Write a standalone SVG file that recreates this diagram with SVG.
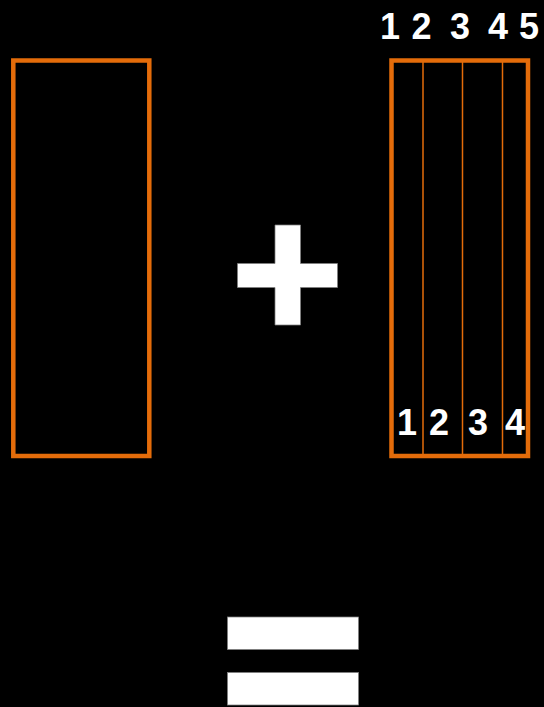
<svg xmlns="http://www.w3.org/2000/svg" width="544" height="707" viewBox="0 0 544 707">
<style>
.box{fill:none;stroke:#E46C0A;stroke-width:4.5}
.div{stroke:#E46C0A;stroke-width:1.5}
.num{font-family:"Liberation Sans",Arial,sans-serif;font-weight:bold;font-size:36px;fill:#fff;text-anchor:middle}
.sym{fill:#fff;stroke:#7f7f7f;stroke-width:0.75}
</style>
<rect width="544" height="707" fill="#000"/>
<g id="left-box"><rect class="box" x="13.3" y="60.5" width="136" height="395.5"/></g>
<g id="plus">
<path class="sym" d="M275,225 H300.5 V263.5 H337.5 V287.5 H300.5 V325 H275 V287.5 H237.5 V263.5 H275 Z"/>
</g>
<g id="right-box">
<rect class="box" x="391.5" y="60.5" width="136.5" height="395.5"/>
<line class="div" x1="423" y1="62" x2="423" y2="454"/>
<line class="div" x1="462.5" y1="62" x2="462.5" y2="454"/>
<line class="div" x1="502.5" y1="62" x2="502.5" y2="454"/>
</g>
<g id="top-numbers">
<text class="num" x="390" y="39">1</text>
<text class="num" x="421.5" y="39">2</text>
<text class="num" x="460" y="39">3</text>
<text class="num" x="498" y="39">4</text>
<text class="num" x="529" y="39">5</text>
</g>
<g id="bottom-numbers">
<text class="num" x="407" y="435">1</text>
<text class="num" x="439" y="435">2</text>
<text class="num" x="478" y="435">3</text>
<text class="num" x="515" y="435">4</text>
</g>
<g id="equals">
<rect class="sym" x="227.5" y="617" width="131" height="32.5"/>
<rect class="sym" x="227.5" y="672.5" width="131" height="32.5"/>
</g>
<g id="connectors"/>
</svg>
